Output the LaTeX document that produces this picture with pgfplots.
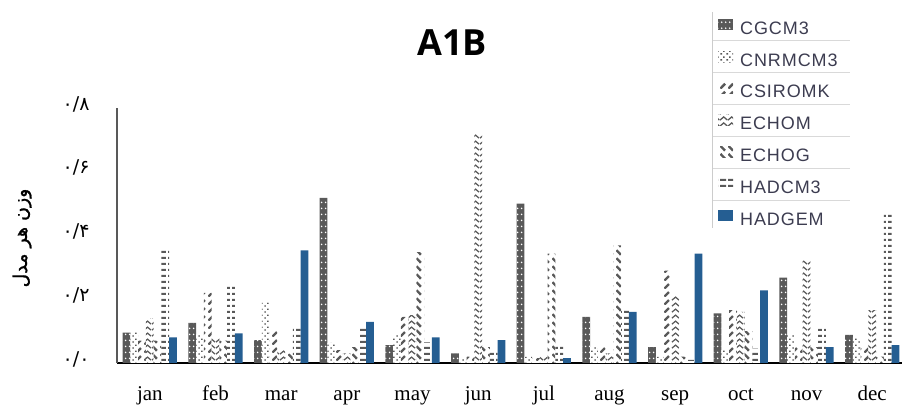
\documentclass[border=0pt]{standalone}
\usepackage{fontspec}
\usepackage{pgfplots}
\usepackage{pgfplotstable}
\pgfplotsset{compat=1.18}
\usetikzlibrary{patterns}
\TeXXeTstate=1
\setmainfont{Liberation Serif}
\newfontfamily\titlefont{Open Sans}
\newfontfamily\legfont[LetterSpace=5]{Liberation Sans}
\newfontfamily\arabicfont[Script=Arabic]{DejaVu Sans}
\newfontfamily\arabicbold[Script=Arabic,FakeBold=1.2]{DejaVu Sans}

\definecolor{cgray}{RGB}{89,89,89}
\definecolor{hblue}{RGB}{37,94,146}
\definecolor{legtext}{RGB}{60,60,80}

\pgfdeclarepatternformonly{cgdots}{\pgfqpoint{0pt}{0pt}}{\pgfqpoint{4pt}{6pt}}{\pgfqpoint{4pt}{6pt}}{%
  \pgfpathcircle{\pgfqpoint{2pt}{3pt}}{1pt}\pgfusepath{fill}}
\pgfdeclarepatternformonly{cndots}{\pgfqpoint{0pt}{0pt}}{\pgfqpoint{6pt}{6pt}}{\pgfqpoint{6pt}{6pt}}{%
  \pgfpathrectangle{\pgfqpoint{0.5pt}{0.5pt}}{\pgfqpoint{1.8pt}{1.5pt}}%
  \pgfpathrectangle{\pgfqpoint{3.5pt}{3.5pt}}{\pgfqpoint{1.8pt}{1.5pt}}\pgfusepath{fill}}
\pgfdeclarepatternformonly{csiro}{\pgfqpoint{0pt}{0pt}}{\pgfqpoint{8pt}{8pt}}{\pgfqpoint{8pt}{8pt}}{%
  \pgfsetlinewidth{2.6pt}\pgfpathmoveto{\pgfqpoint{0.5pt}{0.5pt}}\pgfpathlineto{\pgfqpoint{5.5pt}{5.5pt}}\pgfusepath{stroke}}
\pgfdeclarepatternformonly{echom}{\pgfqpoint{0pt}{0pt}}{\pgfqpoint{8pt}{6pt}}{\pgfqpoint{8pt}{6pt}}{%
  \pgfsetlinewidth{1.4pt}\pgfpathmoveto{\pgfqpoint{0pt}{1pt}}\pgfpathlineto{\pgfqpoint{4pt}{4.5pt}}\pgfpathlineto{\pgfqpoint{8pt}{1pt}}\pgfusepath{stroke}}
\pgfdeclarepatternformonly{echog}{\pgfqpoint{0pt}{0pt}}{\pgfqpoint{8pt}{8pt}}{\pgfqpoint{8pt}{8pt}}{%
  \pgfsetlinewidth{2.6pt}\pgfpathmoveto{\pgfqpoint{0.5pt}{7.5pt}}\pgfpathlineto{\pgfqpoint{5.5pt}{2.5pt}}\pgfusepath{stroke}}
\pgfdeclarepatternformonly{hadcm}{\pgfqpoint{0pt}{0pt}}{\pgfqpoint{8pt}{6pt}}{\pgfqpoint{8pt}{6pt}}{%
  \pgfpathrectangle{\pgfqpoint{0pt}{0pt}}{\pgfqpoint{6.5pt}{2.4pt}}\pgfusepath{fill}}

\pgfplotstableread{
x cg cn cs em eg hc hg
0 0.095 0.10 0.07 0.14 0.07 0.36 0.08
1 0.126 0.09 0.22 0.08 0.07 0.244 0.093
2 0.072 0.19 0.10 0.04 0.03 0.11 0.353
3 0.518 0.063 0.04 0.03 0.05 0.11 0.129
4 0.056 0.09 0.145 0.15 0.348 0.065 0.08
5 0.03 0.015 0.02 0.718 0.05 0.035 0.072
6 0.50 0.02 0.015 0.02 0.343 0.06 0.015
7 0.145 0.05 0.05 0.03 0.369 0.166 0.16
8 0.05 0.02 0.29 0.21 0.02 0.01 0.343
9 0.156 0.04 0.166 0.16 0.10 0.045 0.228
10 0.268 0.088 0.05 0.322 0.05 0.109 0.05
11 0.088 0.08 0.05 0.166 0.02 0.473 0.056
}\datatable

\begin{document}
\begin{tikzpicture}
\useasboundingbox (0,0) rectangle (902pt,409pt);
\begin{axis}[
  at={(117pt,46pt)}, anchor=south west,
  scale only axis, width=788pt, height=255pt,
  xmin=-0.5, xmax=11.5, ymin=0, ymax=0.8,
  enlargelimits=false,
  ybar=0pt, bar width=7.75pt,
  axis x line=bottom, axis y line=left,
  x axis line style={-, black, line width=1.8pt},
  y axis line style={-, black!65, line width=1.5pt},
  major tick length=0pt,
  xtick={0,...,11},
  xticklabels={jan,feb,mar,apr,may,jun,jul,aug,sep,oct,nov,dec},
  xticklabel style={anchor=base, yshift=-38pt, font=\fontsize{21}{24}\selectfont},
  ytick={0,0.2,0.4,0.6,0.8},
  yticklabels={۰/۰,۰/۲,۰/۴,۰/۶,۰/۸},
  yticklabel style={anchor=east, xshift=-24pt, yshift=4pt, font=\arabicfont\fontsize{19}{22}\selectfont},
  every axis y label/.style={at={(axis description cs:-0.1205,0.49)}, rotate=90, anchor=center},
  ylabel={\arabicbold\fontsize{19}{22}\selectfont\beginR وزن هر مدل\endR},
  title={\titlefont\bfseries\fontsize{36}{40}\selectfont A1B},
  title style={at={(axis description cs:0.4251,1.184)}, anchor=base},
  legend image code/.code={\path[#1] (0pt,0pt) rectangle (15pt,11pt);},
  legend cell align=left,
  legend style={at={(axis description cs:0.7627,1.349)}, anchor=north west,
    draw=none, fill=none, inner sep=0pt, row sep=12.8pt, column sep=7pt,
    font=\legfont\fontsize{18}{20}\selectfont,
    nodes={inner sep=0pt, text height=12pt, text depth=4pt, text=legtext}},
]
\addplot[draw=none, fill=cgray, postaction={pattern=cgdots, pattern color=white}] table[x=x,y=cg]{\datatable};
\addplot[draw=none, fill=white, postaction={pattern=cndots, pattern color=cgray}] table[x=x,y=cn]{\datatable};
\addplot[draw=none, fill=white, postaction={pattern=csiro, pattern color=cgray}] table[x=x,y=cs]{\datatable};
\addplot[draw=none, fill=white, postaction={pattern=echom, pattern color=cgray}] table[x=x,y=em]{\datatable};
\addplot[draw=none, fill=white, postaction={pattern=echog, pattern color=cgray}] table[x=x,y=eg]{\datatable};
\addplot[draw=none, fill=white, postaction={pattern=hadcm, pattern color=cgray}] table[x=x,y=hc]{\datatable};
\addplot[draw=none, fill=hblue] table[x=x,y=hg]{\datatable};
\legend{CGCM3,CNRMCM3,CSIROMK,ECHOM,ECHOG,HADCM3,HADGEM}
\end{axis}
\foreach \yy in {40.7,72.7,104.3,136.7,168.3,200}
  \draw[black!15, line width=0.8pt] (712pt,{(409-\yy)*1pt}) -- (850pt,{(409-\yy)*1pt});
\draw[black!20, line width=0.8pt] (712pt,397pt) -- (712pt,181pt);
\end{tikzpicture}
\end{document}
